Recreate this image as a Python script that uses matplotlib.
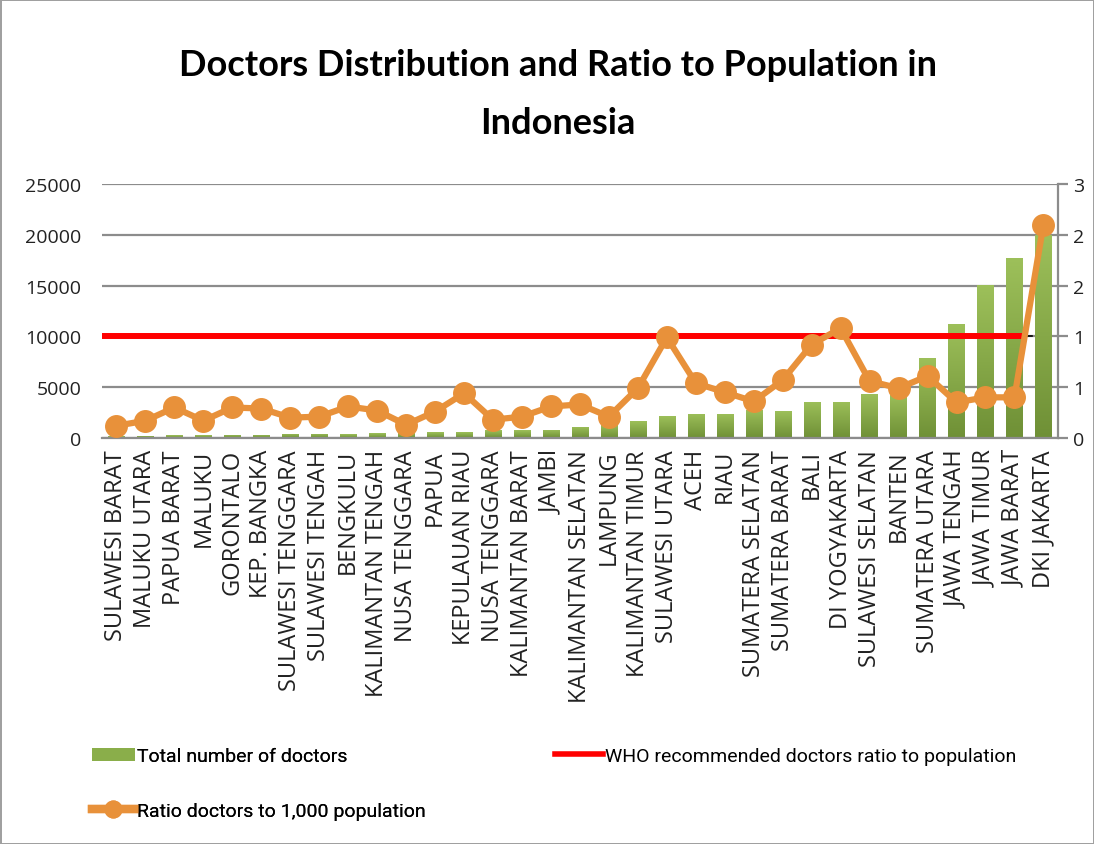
import matplotlib
matplotlib.use("Agg")
import matplotlib.pyplot as plt
import numpy as np
from matplotlib.ticker import FuncFormatter, MultipleLocator
from matplotlib.lines import Line2D
from matplotlib.patches import Patch

provinces = [
    "SULAWESI BARAT", "MALUKU UTARA", "PAPUA BARAT", "MALUKU", "GORONTALO",
    "KEP. BANGKA", "SULAWESI TENGGARA", "SULAWESI TENGAH", "BENGKULU",
    "KALIMANTAN TENGAH", "NUSA TENGGARA", "PAPUA", "KEPULAUAN RIAU",
    "NUSA TENGGARA", "KALIMANTAN BARAT", "JAMBI", "KALIMANTAN SELATAN",
    "LAMPUNG", "KALIMANTAN TIMUR", "SULAWESI UTARA", "ACEH", "RIAU",
    "SUMATERA SELATAN", "SUMATERA BARAT", "BALI", "DI YOGYAKARTA",
    "SULAWESI SELATAN", "BANTEN", "SUMATERA UTARA", "JAWA TENGAH",
    "JAWA TIMUR", "JAWA BARAT", "DKI JAKARTA",
]
total_doctors = [
    150, 200, 250, 250, 300, 300, 400, 400, 380, 450, 500, 570, 570,
    750, 750, 800, 1100, 1350, 1650, 2150, 2400, 2400, 2800, 2650,
    3550, 3550, 4350, 4400, 7850, 11250, 15050, 17700, 20000,
]
ratio_per_1000 = [
    0.12, 0.17, 0.30, 0.17, 0.30, 0.29, 0.20, 0.21, 0.31, 0.27, 0.13,
    0.26, 0.44, 0.18, 0.21, 0.31, 0.33, 0.21, 0.49, 0.99, 0.54, 0.45,
    0.36, 0.57, 0.92, 1.08, 0.56, 0.49, 0.61, 0.35, 0.40, 0.40, 2.10,
]
who_ratio = 1.0

GREEN_TOP, GREEN_BOT = "#9DC05A", "#6F9036"
ORANGE = "#E8913A"
RED = "#FF0000"
GRID = "#8C8C8C"

plt.rcParams["font.family"] = ["Open Sans", "DejaVu Sans"]

fig = plt.figure(figsize=(10.94, 8.45), dpi=100)
fig.patch.set_edgecolor("#A0A0A0")
fig.patch.set_linewidth(2)

ax = fig.add_axes([0.0932, 0.4805, 0.8738, 0.3006])
x = np.arange(len(provinces))

# bars with a vertical green gradient
bars = ax.bar(x, total_doctors, width=0.56, color="none", zorder=2)
grad = np.linspace(0, 1, 256).reshape(-1, 1)
cmap = matplotlib.colors.LinearSegmentedColormap.from_list("g", [GREEN_BOT, GREEN_TOP])
for b in bars:
    x0, w, h = b.get_x(), b.get_width(), b.get_height()
    im = ax.imshow(grad, extent=(x0, x0 + w, 0, h), origin="lower", cmap=cmap,
                   aspect="auto", zorder=2)
    im.set_clip_path(b)

ax.set_xlim(-0.5, len(provinces) - 0.5)
ax.set_ylim(0, 25000)
ax.yaxis.set_major_locator(MultipleLocator(5000))
ax.grid(axis="y", color=GRID, lw=1.6, zorder=0)
ax.set_axisbelow(True)
for s in ("left", "top", "right"):
    ax.spines[s].set_visible(False)
ax.spines["bottom"].set_color(GRID)
ax.spines["bottom"].set_linewidth(1.6)
ax.tick_params(axis="y", length=0, labelsize=14, pad=15, labelcolor="#222222")
ax.tick_params(axis="x", length=0, pad=8)
ax.set_xticks(x)
ax.set_xticklabels(provinces, rotation=90, fontsize=17, va="top", color="#222222")

ax2 = ax.twinx()
ax2.set_ylim(0, 2.5)
ax2.yaxis.set_major_locator(MultipleLocator(0.5))
ax2.yaxis.set_major_formatter(FuncFormatter(lambda v, _: f"{int(np.floor(v + 0.5))}"))
for s in ("left", "top", "bottom"):
    ax2.spines[s].set_visible(False)
ax2.spines["right"].set_color(GRID)
ax2.spines["right"].set_linewidth(1.6)
ax2.tick_params(axis="y", direction="out", length=7, width=1.6, color=GRID,
                labelsize=14, pad=4, labelcolor="#222222")

# WHO recommended level
ax2.plot([-0.5, 31.6], [who_ratio, who_ratio], color="black", lw=1.2, zorder=3)
ax2.plot([-0.5, 31.4], [who_ratio, who_ratio], color=RED, lw=4.3, zorder=4,
         solid_capstyle="butt")

ax2.plot(x, ratio_per_1000, color=ORANGE, lw=4.5, marker="o", ms=15.5,
         markerfacecolor=ORANGE, markeredgecolor=ORANGE, zorder=5)

fig.text(0.51, 0.888, "Doctors Distribution and Ratio to Population in\nIndonesia",
         ha="center", va="center", fontsize=26, fontweight="bold",
         family=["Lato", "DejaVu Sans"], linespacing=1.95)

leg_font = {"family": ["Roboto", "DejaVu Sans"], "size": 14}
bar_handle = Patch(facecolor="#8AAE4A", edgecolor="none")
ratio_handle = Line2D([], [], color=ORANGE, lw=6, marker="o", ms=12, mfc=ORANGE, mec=ORANGE)
who_handle = Line2D([], [], color=RED, lw=4)

leg1 = fig.legend([bar_handle, ratio_handle],
                  ["Total number of doctors", "Ratio doctors to 1,000 population"],
                  loc="upper left", bbox_to_anchor=(0.0841, 0.1145), frameon=False,
                  prop=leg_font, handlelength=2.2, handletextpad=0.1,
                  labelspacing=1.9, borderaxespad=0, borderpad=0)
fig.add_artist(leg1)
fig.legend([who_handle], ["WHO recommended doctors ratio to population"],
           loc="upper left", bbox_to_anchor=(0.507, 0.1145), frameon=False,
           prop=leg_font, handlelength=2.5, handletextpad=0.1,
           borderaxespad=0, borderpad=0)

fig.savefig("out.png", dpi=100)
